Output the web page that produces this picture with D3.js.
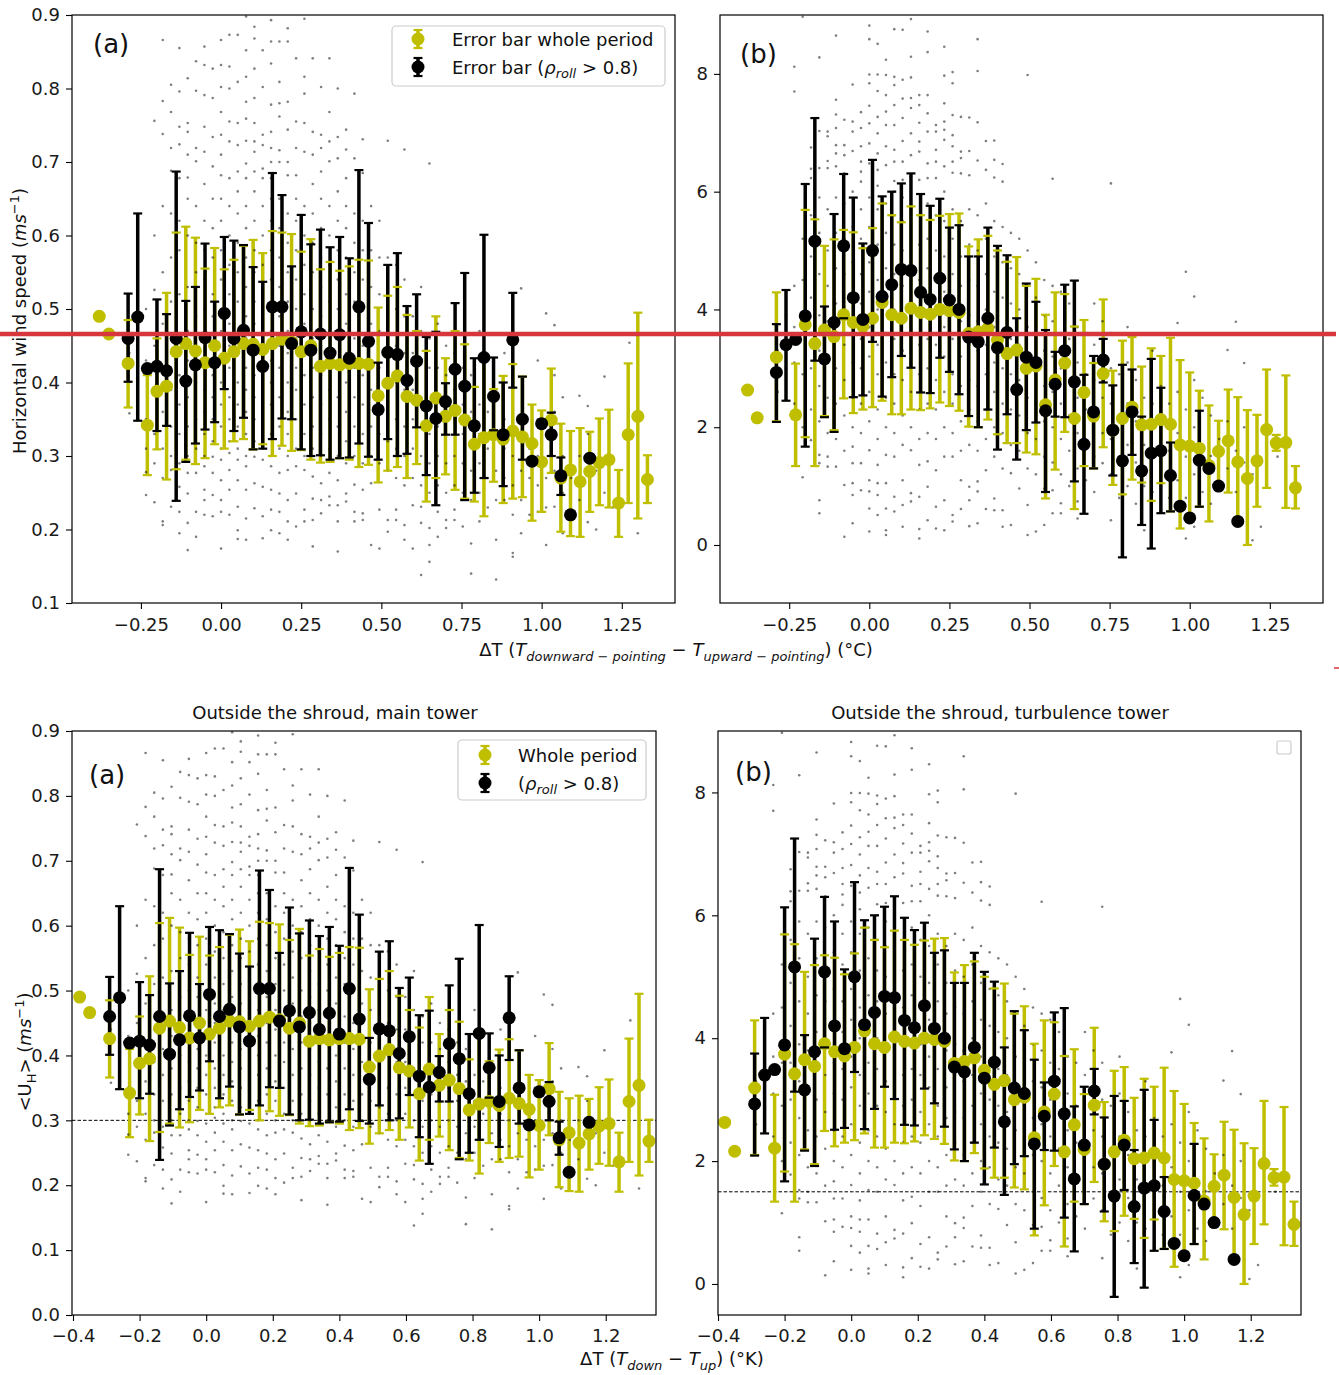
<!DOCTYPE html>
<html><head><meta charset="utf-8">
<script src="https://cdn.jsdelivr.net/npm/d3@7"></script>
<style>body{margin:0;background:#fff}</style>
</head><body>
<svg id="c" width="1339" height="1375" xmlns="http://www.w3.org/2000/svg"></svg>
<script>
// ---------- DATA ----------
const binX = [-0.38,-0.35,-0.32,-0.29,-0.26,-0.23,-0.20,-0.17,-0.14,-0.11,-0.08,-0.05,-0.02,0.01,0.04,0.07,0.10,0.13,0.16,0.19,0.22,0.25,0.28,0.31,0.34,0.37,0.40,0.43,0.46,0.49,0.52,0.55,0.58,0.61,0.64,0.67,0.70,0.73,0.76,0.79,0.82,0.85,0.88,0.91,0.94,0.97,1.00,1.03,1.06,1.09,1.12,1.15,1.18,1.21,1.24,1.27,1.30,1.33];

// main tower: [mean, low, high] (whole period)
const yellowMain = [[0.490,null,null],[0.466,null,null],null,[0.426,0.366,0.485],null,[0.342,0.274,0.410],[0.388,0.309,0.460],[0.395,0.268,0.522],[0.442,0.282,0.604],[0.453,0.295,0.612],[0.443,0.289,0.597],[0.427,0.297,0.555],[0.450,0.316,0.583],[0.433,0.310,0.554],[0.442,0.320,0.567],[0.453,0.323,0.586],[0.452,0.309,0.594],[0.445,0.316,0.576],[0.453,0.300,0.606],[0.459,0.314,0.604],[0.455,0.307,0.602],[0.442,0.308,0.578],[0.450,0.295,0.595],[0.422,0.291,0.554],[0.426,0.292,0.564],[0.424,0.297,0.552],[0.426,0.295,0.558],[0.426,0.285,0.567],[0.425,0.288,0.566],[0.382,0.264,0.502],[0.399,0.280,0.518],[0.409,0.285,0.530],[0.381,0.270,0.492],[0.376,0.289,0.470],[0.341,0.238,0.443],[0.379,0.270,0.490],[0.354,0.275,0.433],[0.362,0.254,0.470],[0.349,0.242,0.452],[0.316,0.238,0.394],[0.325,0.218,0.430],[0.329,0.265,0.391],[0.323,0.236,0.409],[0.334,0.242,0.425],[0.326,0.244,0.408],[0.317,0.212,0.370],[0.292,0.224,0.362],[0.349,0.277,0.419],[0.270,0.197,0.344],[0.281,0.191,0.334],[0.265,0.190,0.338],[0.279,0.224,0.333],[0.291,0.233,0.351],[0.295,0.230,0.363],[0.236,0.190,0.281],[0.329,0.236,0.426],[0.354,0.215,0.495],[0.268,0.236,0.301]];
// main tower (rho_roll > 0.8)
const blackMain = [null,null,null,[0.460,0.401,0.521],[0.489,0.348,0.630],[0.419,null,null],[0.422,0.334,0.513],[0.416,0.341,0.493],[0.460,0.239,0.687],[0.402,0.292,0.511],[0.424,0.317,0.530],[0.461,0.336,0.589],[0.427,0.346,0.510],[0.494,0.391,0.598],[0.460,0.334,0.593],[0.471,0.352,0.587],[0.444,0.309,0.557],[0.422,0.310,0.537],[0.503,0.323,0.685],[0.503,0.351,0.655],[0.453,0.350,0.558],[0.469,0.309,0.628],[0.444,0.300,0.588],[0.466,0.301,0.608],[0.440,0.295,0.584],[0.465,0.297,0.598],[0.433,0.298,0.569],[0.503,0.317,0.689],[0.456,0.299,0.617],[0.363,0.295,0.427],[0.441,0.323,0.560],[0.438,0.300,0.576],[0.403,0.303,0.504],[0.429,0.339,0.520],[0.368,0.274,0.462],[0.351,0.233,0.469],[0.374,0.329,0.399],[0.418,0.329,0.508],[0.395,0.240,0.549],[0.341,0.250,0.433],[0.434,0.270,0.601],[0.381,0.335,0.434],[0.329,0.259,0.400],[0.458,0.393,0.522],[0.350,0.295,0.408],[0.293,null,null],[0.344,null,null],[0.329,0.300,0.359],[0.273,0.247,0.298],[0.220,null,null],null,[0.297,null,null],null,null,null,null,null,null];
// turbulence tower (whole period)
const yellowTurb = [[2.63,null,null],[2.16,null,null],null,[3.19,2.10,4.29],null,[2.21,1.34,3.08],[3.74,1.83,5.69],[3.42,1.34,5.53],[3.65,2.19,5.08],[3.54,1.95,5.19],[3.91,2.49,5.35],[3.78,2.24,5.31],[3.71,2.30,5.04],[3.85,2.34,5.38],[4.12,2.45,5.80],[3.91,2.22,5.60],[3.85,2.22,5.48],[4.02,2.30,5.75],[3.95,2.29,5.60],[3.92,2.32,5.52],[4.00,2.42,5.59],[3.98,2.36,5.62],[3.95,2.28,5.63],[3.59,2.01,5.07],[3.62,2.00,5.19],[3.68,2.13,5.25],[3.48,1.88,5.00],[3.25,1.73,4.81],[3.31,1.73,4.89],[3.00,1.57,4.40],[3.04,1.54,4.52],[2.38,0.79,3.91],[2.80,1.28,4.29],[3.09,1.92,4.26],[2.15,0.61,3.71],[2.59,1.34,3.82],[2.19,1.30,3.09],[2.91,1.66,4.17],[1.95,1.02,2.96],[2.15,0.86,3.47],[2.34,1.11,3.53],[2.04,1.06,3.03],[2.05,0.75,3.34],[2.13,1.05,3.21],[2.05,0.57,3.52],[1.70,0.28,3.14],[1.68,0.51,2.93],[1.64,0.65,2.62],[1.35,0.40,2.37],[1.59,1.05,2.11],[1.77,0.89,2.64],[1.41,0.40,2.51],[1.13,0.00,2.29],[1.43,0.65,2.21],[1.96,0.97,2.98],[1.73,1.60,1.87],[1.74,0.63,2.88],[0.97,0.62,1.34]];
// turbulence tower (rho_roll > 0.8)
const blackTurb = [null,null,null,[2.93,2.09,3.75],[3.40,2.45,4.33],[3.49,null,null],[3.89,1.67,6.13],[5.16,3.13,7.25],[3.16,2.17,4.05],[3.78,1.92,5.62],[5.08,3.85,6.30],[4.20,2.51,5.90],[3.83,2.54,5.12],[5.00,3.45,6.54],[4.22,2.52,5.92],[4.42,2.85,6.00],[4.68,3.21,6.14],[4.66,3.01,6.31],[4.29,2.59,5.96],[4.17,2.58,5.76],[4.53,3.18,5.88],[4.16,2.94,5.39],[4.00,2.56,5.43],[3.53,2.19,4.90],[3.45,2.00,4.90],[3.85,2.30,5.39],[3.35,1.62,5.08],[3.61,2.22,4.92],[2.64,1.45,3.85],[3.19,1.95,4.44],[3.10,2.08,4.13],[2.28,0.90,3.65],[2.73,2.18,3.28],[3.30,2.17,4.42],[2.77,1.08,4.49],[1.71,0.53,2.89],[2.26,1.30,3.21],[3.14,2.76,3.50],[1.95,1.18,2.71],[1.43,-0.21,3.06],[2.26,1.53,2.98],[1.26,0.34,2.18],[1.56,-0.06,3.16],[1.60,0.54,2.67],[1.18,0.57,1.74],[0.66,null,null],[0.46,null,null],[1.44,0.65,2.28],[1.30,null,null],[1.00,null,null],null,[0.40,null,null],null,null,null,null,null,null];

// raw samples: ΔT columns and the speeds read in each column
const scatterX = [-0.286,-0.260,-0.234,-0.208,-0.182,-0.156,-0.130,-0.104,-0.078,-0.052,-0.026,0.000,0.026,0.052,0.078,0.104,0.130,0.156,0.182,0.208,0.234,0.260,0.286,0.312,0.338,0.364,0.390,0.416,0.442,0.468,0.494,0.520,0.546,0.572,0.598,0.624,0.650,0.676,0.702,0.728,0.754,0.780,0.806,0.832,0.858,0.884,0.910,0.936,0.962,0.988,1.014,1.040,1.066,1.092,1.118,1.144,1.170,1.196,1.222,1.248,1.274,1.300];
const scatterMain = [
"0.358 0.44","0.40 0.47","0.247 0.278 0.31 0.35 0.43 0.50","0.756 0.237 0.526 0.29 0.33 0.39 0.45 0.60",
"0.866 0.783 0.738 0.211 0.206 0.27 0.31 0.36 0.42 0.48 0.55 0.64",
"0.805 0.768 0.719 0.688 0.281 0.231 0.30 0.34 0.39 0.44 0.51 0.57 0.63",
"0.855 0.796 0.748 0.724 0.678 0.258 0.224 0.195 0.29 0.33 0.37 0.41 0.46 0.52 0.58 0.62",
"0.814 0.753 0.741 0.710 0.679 0.277 0.249 0.209 0.172 0.30 0.34 0.38 0.43 0.47 0.53 0.60 0.65",
"0.837 0.797 0.719 0.701 0.277 0.224 0.190 0.31 0.35 0.40 0.44 0.49 0.55 0.59 0.64",
"0.857 0.832 0.791 0.748 0.714 0.286 0.254 0.240 0.220 0.30 0.33 0.36 0.39 0.42 0.46 0.50 0.54 0.58 0.62 0.67",
"0.827 0.787 0.734 0.694 0.299 0.277 0.247 0.218 0.32 0.35 0.38 0.41 0.45 0.49 0.52 0.57 0.61 0.65",
"0.866 0.832 0.802 0.768 0.737 0.710 0.682 0.295 0.267 0.240 0.224 0.174 0.31 0.34 0.37 0.40 0.43 0.47 0.50 0.54 0.58 0.62 0.65",
"0.873 0.830 0.800 0.755 0.728 0.678 0.304 0.281 0.254 0.220 0.32 0.35 0.38 0.42 0.45 0.48 0.52 0.56 0.60 0.64",
"0.873 0.809 0.753 0.723 0.687 0.295 0.267 0.231 0.199 0.187 0.31 0.34 0.37 0.40 0.44 0.47 0.51 0.55 0.59 0.63 0.66",
"0.898 0.852 0.816 0.782 0.759 0.729 0.698 0.678 0.286 0.254 0.215 0.186 0.30 0.33 0.36 0.39 0.42 0.46 0.49 0.53 0.57 0.61 0.64",
"0.884 0.868 0.827 0.787 0.753 0.728 0.714 0.687 0.299 0.263 0.229 0.32 0.35 0.38 0.41 0.44 0.48 0.51 0.55 0.58 0.62 0.66",
"0.852 0.802 0.737 0.723 0.691 0.678 0.295 0.258 0.218 0.188 0.31 0.34 0.37 0.41 0.45 0.48 0.52 0.56 0.60 0.64",
"0.893 0.864 0.834 0.778 0.741 0.719 0.700 0.678 0.286 0.254 0.227 0.199 0.30 0.33 0.37 0.40 0.43 0.47 0.50 0.54 0.58 0.62 0.65",
"0.864 0.809 0.780 0.762 0.716 0.700 0.277 0.249 0.224 0.195 0.31 0.34 0.38 0.42 0.45 0.49 0.53 0.57 0.61 0.65",
"0.882 0.864 0.782 0.744 0.700 0.682 0.281 0.240 0.211 0.186 0.30 0.33 0.36 0.40 0.44 0.47 0.51 0.55 0.59 0.63",
"0.841 0.755 0.719 0.682 0.286 0.249 0.204 0.31 0.35 0.39 0.42 0.46 0.50 0.54 0.58 0.62 0.65",
"0.895 0.816 0.793 0.753 0.714 0.281 0.227 0.211 0.30 0.33 0.37 0.41 0.44 0.48 0.52 0.56 0.60 0.64",
"0.841 0.741 0.710 0.272 0.242 0.213 0.177 0.31 0.34 0.38 0.42 0.46 0.50 0.55 0.59 0.63 0.67",
"0.802 0.737 0.719 0.687 0.263 0.240 0.222 0.30 0.33 0.37 0.41 0.45 0.49 0.53 0.57 0.61 0.65",
"0.841 0.768 0.728 0.701 0.277 0.245 0.233 0.31 0.35 0.39 0.43 0.47 0.51 0.56 0.60 0.64",
"0.800 0.734 0.705 0.267 0.233 0.211 0.170 0.30 0.34 0.38 0.42 0.46 0.50 0.54 0.58 0.62 0.66",
"0.744 0.717 0.678 0.249 0.238 0.29 0.32 0.36 0.40 0.44 0.48 0.52 0.57 0.61 0.64",
"0.793 0.705 0.261 0.224 0.211 0.30 0.34 0.38 0.42 0.46 0.51 0.55 0.59 0.63",
"0.731 0.685 0.254 0.222 0.213 0.29 0.33 0.37 0.41 0.45 0.50 0.54 0.58 0.62",
"0.263 0.179 0.30 0.34 0.39 0.43 0.48 0.53 0.58 0.64",
"0.227 0.174 0.29 0.33 0.37 0.42 0.47 0.52 0.57 0.62",
"0.729 0.213 0.197 0.28 0.32 0.36 0.41 0.46 0.51 0.57",
"0.227 0.213 0.27 0.31 0.35 0.40 0.45 0.50 0.56",
"0.717 0.206 0.186 0.26 0.30 0.34 0.39 0.44 0.49 0.54",
"0.233 0.174 0.27 0.31 0.35 0.39 0.44 0.49",
"0.231 0.209 0.138 0.26 0.30 0.34 0.38 0.43 0.47 0.53",
"0.698 0.202 0.179 0.156 0.25 0.29 0.33 0.37 0.42 0.46",
"0.224 0.190 0.26 0.30 0.34 0.38 0.42 0.48",
"0.213 0.202 0.25 0.29 0.33 0.37 0.41 0.45",
"0.227 0.213 0.26 0.30 0.35 0.39 0.44",
"0.204 0.25 0.29 0.33 0.37 0.42",
"0.181 0.140 0.24 0.28 0.32 0.36 0.41",
"0.211 0.25 0.29 0.33 0.37 0.47",
"0.23 0.27 0.31 0.36",
"0.186 0.132 0.24 0.28 0.33 0.39",
"0.240 0.27 0.31 0.35 0.44",
"0.168 0.163 0.22 0.26 0.30 0.34",
"0.195 0.24 0.28 0.32 0.528",
"0.22 0.27 0.31",
"0.224 0.26 0.30 0.35 0.43",
"0.179 0.23 0.27 0.33 0.494",
"0.231 0.28 0.36 0.41 0.478",
"0.195 0.25 0.30 0.38",
"0.22 0.27","0.24 0.30 0.382","0.21 0.33 0.368","0.20 0.28","0.408 0.25","0.23","","0.454","0.195",""];
const scatterTurb = [
"2.6 3.3","3.0 3.9","8.12 7.70 2.4 3.1 3.7 4.4","8.97 1.15 2.0 2.9 3.6 4.5 5.2",
"6.75 6.39 6.23 1.78 2.3 3.0 3.6 4.2 4.9 5.6",
"8.28 7.03 6.40 1.53 1.39 0.76 0.54 2.1 2.7 3.3 3.9 4.6 5.3 5.9",
"7.02 6.94 6.52 6.40 1.50 1.33 1.9 2.5 3.1 3.8 4.4 5.0 5.7",
"8.65 7.56 7.31 7.08 6.79 6.65 6.43 1.33 1.8 2.4 3.0 3.5 4.1 4.7 5.3 5.9",
"7.22 6.79 6.62 6.31 1.02 0.14 1.6 2.2 2.8 3.4 4.0 4.6 5.2 5.8",
"7.82 7.19 7.02 6.69 1.67 1.39 1.05 0.85 0.37 2.0 2.5 3.1 3.6 4.2 4.8 5.4 6.0",
"7.35 7.08 6.77 6.51 6.34 6.17 1.39 0.93 1.9 2.4 3.0 3.5 4.1 4.6 5.2 5.7",
"8.82 8.59 7.99 7.84 7.46 7.16 6.82 6.48 1.61 1.10 0.91 0.62 0.23 2.1 2.6 3.2 3.7 4.3 4.8 5.4 5.9",
"8.51 7.99 7.71 7.27 6.99 6.65 6.37 1.36 1.05 0.85 0.51 1.8 2.3 2.9 3.4 4.0 4.5 5.1 5.7 6.1",
"8.24 7.98 7.64 7.36 7.13 6.77 6.45 1.53 1.05 0.62 0.25 0.17 2.0 2.5 3.1 3.6 4.2 4.7 5.3 5.8",
"8.76 7.95 7.81 7.47 7.13 6.71 6.51 6.18 1.50 0.82 0.57 1.9 2.4 2.9 3.5 4.0 4.6 5.1 5.6 6.0",
"8.75 7.90 7.58 7.25 6.86 6.51 6.20 1.10 0.68 0.31 1.7 2.2 2.8 3.3 3.9 4.4 5.0 5.5 5.9",
"8.93 8.29 7.94 7.59 7.42 6.99 6.62 6.26 1.61 0.88 0.74 2.0 2.6 3.1 3.7 4.2 4.8 5.3 5.8",
"7.64 7.47 7.17 6.85 6.68 6.20 1.36 0.82 0.27 0.11 1.8 2.3 2.9 3.4 4.0 4.5 5.1 5.6",
"8.72 8.37 7.64 7.33 7.02 6.48 6.23 1.42 0.99 0.42 1.9 2.4 3.0 3.5 4.1 4.7 5.2 5.8",
"7.13 7.02 6.71 6.51 6.23 1.27 0.65 0.28 1.8 2.3 2.8 3.4 3.9 4.5 5.0 5.6",
"8.46 7.97 7.50 7.19 7.05 6.88 6.43 0.76 0.25 1.5 2.0 2.6 3.2 3.7 4.3 4.9 5.5 6.0",
"8.03 7.84 7.30 6.96 6.77 6.51 6.32 1.50 0.51 0.40 1.9 2.4 2.9 3.5 4.1 4.6 5.2 5.7",
"7.27 6.68 6.57 6.31 1.10 0.61 1.6 2.1 2.7 3.2 3.8 4.4 4.9 5.5",
"7.26 6.69 6.28 0.99 0.76 0.32 1.7 2.3 2.8 3.4 3.9 4.5 5.1 5.7",
"8.59 8.05 7.18 6.53 1.08 0.91 0.37 1.6 2.1 2.7 3.3 3.8 4.4 5.0 5.6",
"6.86 6.37 1.27 0.61 1.8 2.3 2.9 3.4 4.0 4.6 5.2 5.8",
"6.87 6.54 6.24 0.79 0.59 1.5 2.0 2.6 3.1 3.7 4.3 4.9 5.5",
"6.47 6.17 0.59 0.31 1.3 1.9 2.4 3.0 3.6 4.2 4.8 5.4",
"1.22 0.34 1.7 2.3 2.9 3.5 4.1 4.7 5.3",
"0.96 1.6 2.2 2.8 3.4 4.0 4.6 5.2",
"7.98 0.68 0.17 1.3 1.9 2.5 3.1 3.7 4.4 5.0",
"0.23 1.2 1.8 2.4 3.0 3.6 4.2 4.8",
"0.96 0.34 1.5 2.1 2.7 3.3 3.9 4.5",
"6.22 0.93 0.54 1.4 2.0 2.6 3.2 3.8 4.4",
"0.71 0.54 1.2 1.8 2.4 3.0 3.6 4.3",
"1.0 1.6 2.2 2.8 3.5 4.1",
"0.74 0.45 1.3 1.9 2.5 3.1 3.7",
"1.1 1.7 2.3 2.9 3.6",
"0.9 1.5 2.1 2.8 3.4 4.1",
"1.39 1.9 2.5 3.1 3.8",
"6.14 0.42 1.2 1.8 2.4 3.0 3.6",
"0.8 1.5 2.2 2.9",
"1.0 1.7 2.4 3.1 3.7",
"0.7 1.4 2.1 2.8",
"0.25 1.0 1.7 2.5",
"0.9 1.6 2.4 3.3",
"0.6 1.3 2.0 2.7",
"0.8 1.6 2.4",
"1.1 1.9 2.6 3.77",
"0.11 0.8 1.5 2.3 4.64",
"0.31 1.2 2.0 2.8 4.22",
"0.9 1.7 2.5",
"1.51 0.7 2.2",
"1.0 1.8","1.3 2.1 3.31","0.9 1.6 3.79","1.4 2.0 3.09","1.2 0.08","0.31","1.92","1.50 1.8",""];

const xTicksTop = [-0.25,0,0.25,0.5,0.75,1.0,1.25];
const xTicksBottom = [-0.4,-0.2,0,0.2,0.4,0.6,0.8,1.0,1.2];
const yTicksSpeed = [0.1,0.2,0.3,0.4,0.5,0.6,0.7,0.8,0.9];
const yTicksSpeed0 = [0,0.1,0.2,0.3,0.4,0.5,0.6,0.7,0.8,0.9];
const yTicksTurb = [0,2,4,6,8];

// ---------- DRAW ----------
const FONT = '"DejaVu Sans", sans-serif';
const YEL = '#bfbf00';
const svg = d3.select('#c');
const defs = svg.append('defs');

const panels = [
  {id:'ta', x0:72, x1:675, y0:15, y1:603, xd:[-0.465,1.416], yd:[0.1,0.9], xt:xTicksTop, xf:d3.format('.2f'), yt:yTicksSpeed, yf:d3.format('.1f'), yel:yellowMain, blk:blackMain, sc:scatterMain, label:'(a)', lx:93, ly:53, xpad:9},
  {id:'tb', x0:720, x1:1323, y0:15, y1:603, xd:[-0.466,1.416], yd:[-0.985,9.0], xt:xTicksTop, xf:d3.format('.2f'), yt:yTicksTurb, yf:d3.format('d'), yel:yellowTurb, blk:blackTurb, sc:scatterTurb, label:'(b)', lx:740, ly:63, xpad:9},
  {id:'ba', x0:72, x1:656, y0:731, y1:1315, xd:[-0.403,1.351], yd:[0,0.9], xt:xTicksBottom, xf:d3.format('.1f'), yt:yTicksSpeed0, yf:d3.format('.1f'), yel:yellowMain, blk:blackMain, sc:scatterMain, label:'(a)', lx:89, ly:784, dash:0.3, xpad:8},
  {id:'bb', x0:718, x1:1301, y0:731, y1:1315, xd:[-0.4,1.351], yd:[-0.505,9.0], xt:xTicksBottom, xf:d3.format('.1f'), yt:yTicksTurb, yf:d3.format('d'), yel:yellowTurb, blk:blackTurb, sc:scatterTurb, label:'(b)', lx:735, ly:781, dash:1.5, xpad:8}
];

function drawPanel(p){
  const x = d3.scaleLinear().domain(p.xd).range([p.x0,p.x1]);
  const y = d3.scaleLinear().domain(p.yd).range([p.y1,p.y0]);
  const g = svg.append('g');
  const cid = 'clip-'+p.id;
  defs.append('clipPath').attr('id',cid).append('rect')
    .attr('x',p.x0).attr('y',p.y0).attr('width',p.x1-p.x0).attr('height',p.y1-p.y0);
  const pl = g.append('g').attr('clip-path',`url(#${cid})`);

  if(p.dash!=null){
    pl.append('line').attr('x1',p.x0).attr('x2',p.x1).attr('y1',y(p.dash)).attr('y2',y(p.dash))
      .attr('stroke','#000').attr('stroke-width',1).attr('stroke-dasharray','3.5,2');
  }
  const yel = binX.map((v,i)=>({x:v,d:p.yel[i]})).filter(o=>o.d);
  const blk = binX.map((v,i)=>({x:v,d:p.blk[i]})).filter(o=>o.d);
  const bars = (data,color)=>pl.append('g').selectAll('line')
      .data(data.filter(o=>o.d[1]!=null)).join('line')
      .attr('x1',o=>x(o.x)).attr('x2',o=>x(o.x))
      .attr('y1',o=>y(o.d[1])).attr('y2',o=>y(o.d[2]))
      .attr('stroke',color).attr('stroke-width',3.5);
  bars(yel,YEL); bars(blk,'#000');

  const pts=[];
  scatterX.forEach((sx,i)=>{ (p.sc[i]||'').trim().split(/\s+/).filter(s=>s).forEach(s=>pts.push([sx,+s])); });
  pl.append('g').selectAll('circle').data(pts).join('circle')
    .attr('cx',d=>x(d[0])).attr('cy',d=>y(d[1])).attr('r',1.3).attr('fill','rgba(0,0,0,0.5)');

  const marks = (data,color)=>{
    const gg = pl.append('g');
    const withBar = data.filter(o=>o.d[1]!=null);
    ['lo','hi'].forEach((k,ki)=>{
      gg.append('g').selectAll('line').data(withBar).join('line')
        .attr('x1',o=>x(o.x)-4.5).attr('x2',o=>x(o.x)+4.5)
        .attr('y1',o=>y(o.d[ki+1])).attr('y2',o=>y(o.d[ki+1]))
        .attr('stroke',color).attr('stroke-width',2.2);
    });
    gg.append('g').selectAll('circle').data(data).join('circle')
      .attr('cx',o=>x(o.x)).attr('cy',o=>y(o.d[0])).attr('r',6.5).attr('fill',color);
  };
  marks(yel,YEL); marks(blk,'#000');

  const ax = g.append('g').attr('transform',`translate(0,${p.y1})`)
    .call(d3.axisBottom(x).tickValues(p.xt).tickFormat(p.xf).tickSize(6).tickPadding(p.xpad));
  const ay = g.append('g').attr('transform',`translate(${p.x0},0)`)
    .call(d3.axisLeft(y).tickValues(p.yt).tickFormat(p.yf).tickSize(6).tickPadding(6));
  [ax,ay].forEach(a=>{
    a.select('.domain').remove();
    a.attr('font-size',18).attr('font-family',FONT);
    a.selectAll('line').attr('stroke','#000').attr('stroke-width',1.1);
    a.selectAll('text').attr('fill','#1a1a1a');
  });
  g.append('rect').attr('x',p.x0).attr('y',p.y0).attr('width',p.x1-p.x0).attr('height',p.y1-p.y0)
    .attr('fill','none').attr('stroke','#000').attr('stroke-width',1.2);
  g.append('text').attr('x',p.lx).attr('y',p.ly).attr('font-size',26).attr('font-family',FONT)
    .attr('fill','#111').text(p.label);
}
panels.forEach(drawPanel);

// ---------- text helpers ----------
function richText(parent, parts, attrs){
  const t = parent.append('text').attr('font-family',FONT).attr('fill','#111');
  Object.entries(attrs).forEach(([k,v])=>t.attr(k,v));
  let shift = 0;
  parts.forEach(pt=>{
    const target = pt.dy||0;
    const ts = t.append('tspan').text(pt.t);
    if(target!==shift){ ts.attr('dy',target-shift); shift=target; }
    if(pt.s) ts.attr('font-size',pt.s);
    if(pt.i) ts.attr('font-style','italic');
  });
  return t;
}

// axis labels
richText(svg,[{t:'ΔT ('},{t:'T',i:1},{t:'downward − pointing',i:1,s:13,dy:5},{t:' − ',dy:0},{t:'T',i:1},{t:'upward − pointing',i:1,s:13,dy:5},{t:') (°C)',dy:0}],
  {x:676,y:656,'font-size':18,'text-anchor':'middle'});
richText(svg,[{t:'ΔT ('},{t:'T',i:1},{t:'down',i:1,s:13,dy:5},{t:' − ',dy:0},{t:'T',i:1},{t:'up',i:1,s:13,dy:5},{t:') (°K)',dy:0}],
  {x:672,y:1365,'font-size':18,'text-anchor':'middle'});
richText(svg,[{t:'Horizontal wind speed ('},{t:'ms',i:1},{t:'−1',s:13,dy:-7},{t:')',dy:0}],
  {transform:'translate(26,321) rotate(-90)','font-size':18,'text-anchor':'middle'});
richText(svg,[{t:'<U'},{t:'H',s:13,dy:5},{t:'> (',dy:0},{t:'ms',i:1},{t:'−1',s:13,dy:-7},{t:')',dy:0}],
  {transform:'translate(31,1052) rotate(-90)','font-size':18,'text-anchor':'middle'});

// titles
svg.append('text').attr('x',335).attr('y',719).attr('text-anchor','middle').attr('font-size',18)
  .attr('font-family',FONT).attr('fill','#111').text('Outside the shroud, main tower');
svg.append('text').attr('x',1000).attr('y',719).attr('text-anchor','middle').attr('font-size',18)
  .attr('font-family',FONT).attr('fill','#111').text('Outside the shroud, turbulence tower');

// legends
function legendMarker(cx,cy,color){
  svg.append('line').attr('x1',cx).attr('x2',cx).attr('y1',cy-9).attr('y2',cy+9).attr('stroke',color).attr('stroke-width',3.5);
  [cy-9,cy+9].forEach(v=>svg.append('line').attr('x1',cx-4.5).attr('x2',cx+4.5).attr('y1',v).attr('y2',v).attr('stroke',color).attr('stroke-width',2.2));
  svg.append('circle').attr('cx',cx).attr('cy',cy).attr('r',6.5).attr('fill',color);
}
function legend(bx,by,bw,bh,mx,tx,rows){
  svg.append('rect').attr('x',bx).attr('y',by).attr('width',bw).attr('height',bh).attr('rx',4)
    .attr('fill','rgba(255,255,255,0.85)').attr('stroke','#cccccc').attr('stroke-width',1.2);
  rows.forEach(r=>{
    legendMarker(mx,r.y,r.c);
    richText(svg,r.parts,{x:tx,y:r.y+6.5,'font-size':18});
  });
}
legend(392,26,273,60,418,452,[
  {y:39,c:YEL,parts:[{t:'Error bar whole period'}]},
  {y:67,c:'#000',parts:[{t:'Error bar ('},{t:'ρ',i:1},{t:'roll',i:1,s:13,dy:4},{t:' > 0.8)',dy:0}]}
]);
legend(458,740,188,60,485,518,[
  {y:755,c:YEL,parts:[{t:'Whole period'}]},
  {y:783,c:'#000',parts:[{t:'('},{t:'ρ',i:1},{t:'roll',i:1,s:13,dy:4},{t:' > 0.8)',dy:0}]}
]);
svg.append('rect').attr('x',1277).attr('y',741).attr('width',14).attr('height',13).attr('rx',2)
  .attr('fill','#fff').attr('stroke','#cccccc').attr('stroke-width',1.2);

// red annotation line
svg.append('line').attr('x1',0).attr('x2',1336).attr('y1',334).attr('y2',334)
  .attr('stroke','#d6363c').attr('stroke-width',4.5);
svg.append('line').attr('x1',1334).attr('x2',1339).attr('y1',668).attr('y2',668)
  .attr('stroke','#d6363c').attr('stroke-width',1.5);
</script>
</body></html>
